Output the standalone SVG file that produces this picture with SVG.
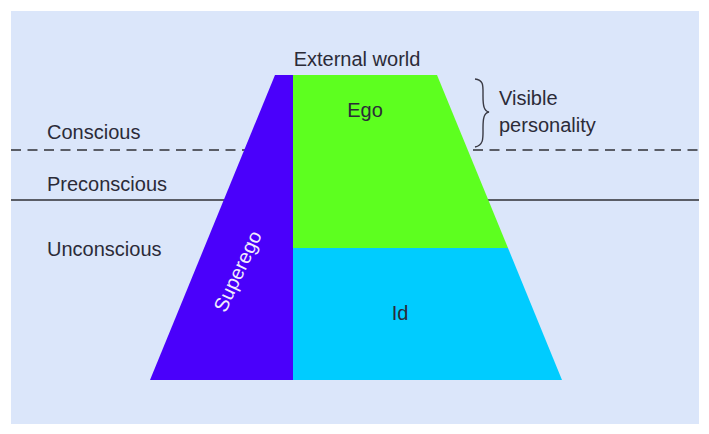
<svg xmlns="http://www.w3.org/2000/svg" width="709" height="434" viewBox="0 0 709 434">
<style>
.t{font-family:"Liberation Sans",Arial,sans-serif;font-size:20px;fill:#2b2b38}
.w{font-family:"Liberation Sans",Arial,sans-serif;font-size:20px;fill:#f2eefc}
.ln{stroke:#5a5d66;stroke-width:2;fill:none}
</style>
<rect x="0" y="0" width="709" height="434" fill="#ffffff"/>
<rect x="11" y="11" width="688" height="413" fill="#dbe6fa"/>
<g id="levels">
<line class="ln" x1="11" y1="150" x2="699" y2="150" stroke-dasharray="10,6.5"/>
<line class="ln" x1="11" y1="200" x2="699" y2="200"/>
<text class="t" x="47" y="139">Conscious</text>
<text class="t" x="47" y="191">Preconscious</text>
<text class="t" x="47" y="256">Unconscious</text>
</g>
<g id="superego">
<polygon points="275,75 293,75 293,380 150,380" fill="#4a00fb"/>
<text class="w" transform="translate(239,272) rotate(-65)" text-anchor="middle" dominant-baseline="middle">Superego</text>
</g>
<g id="ego">
<polygon points="293,75 437,75 508,248 293,248" fill="#5dff1f"/>
<text class="t" x="365" y="117" text-anchor="middle">Ego</text>
</g>
<g id="id">
<polygon points="293,248 508,248 562,380 293,380" fill="#00ccff"/>
<text class="t" x="400" y="320" text-anchor="middle">Id</text>
</g>
<g id="external">
<text class="t" x="357" y="66" text-anchor="middle">External world</text>
</g>
<g id="visible">
<path d="M475,79 C484,80 483,86 483,96 C483,106 484,111 489,112 C484,113 483,118 483,128 C483,138 484,145 475,147" fill="none" stroke="#3a3a44" stroke-width="1.4"/>
<text class="t" x="499" y="105">Visible</text>
<text class="t" x="499" y="132">personality</text>
</g>
</svg>
